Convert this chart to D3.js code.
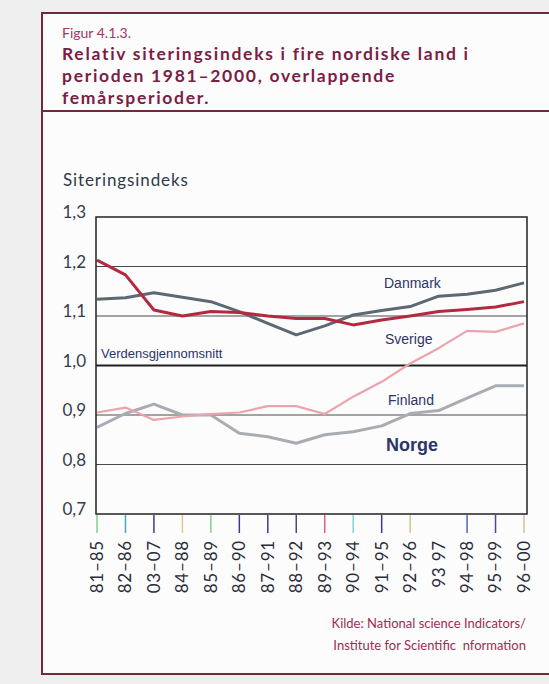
<!DOCTYPE html>
<html>
<head>
<meta charset="utf-8">
<script src="https://cdn.jsdelivr.net/npm/d3@7"></script>
<style>
  html, body { margin: 0; padding: 0; background: #efefef; }
  svg { display: block; }
</style>
</head>
<body>
<div id="chart"></div>
<script>
var width = 549,
    height = 684;

// overlapping five-year periods, as printed
var periods = ["81–85", "82–86", "03–07", "84–88", "85–89", "86–90", "87–91", "88–92",
               "89–93", "90–94", "91–95", "92–96", "93 97", "94–98", "95–99", "96–00"];

var yTicks = [0.7, 0.8, 0.9, 1.0, 1.1, 1.2, 1.3];

var danmark = [1.134, 1.137, 1.147, 1.138, 1.129, 1.109, 1.085, 1.062, 1.080, 1.102, 1.111, 1.119, 1.140, 1.144, 1.152, 1.167];
var sverige = [1.213, 1.183, 1.112, 1.100, 1.109, 1.107, 1.100, 1.095, 1.095, 1.082, 1.092, 1.100, 1.109, 1.113, 1.118, 1.129];
var finland = [0.905, 0.915, 0.890, 0.897, 0.902, 0.905, 0.918, 0.918, 0.902, 0.937, 0.967, 1.004, 1.035, 1.070, 1.068, 1.085];
var norge   = [0.875, 0.903, 0.922, 0.900, 0.900, 0.863, 0.856, 0.843, 0.860, 0.866, 0.878, 0.903, 0.909, 0.934, 0.959, 0.959];

var series = [
    { name: "Norge", values: norge, color: "#a9adb3", w: 3 },
    { name: "Finland", values: finland, color: "#eba3ad", w: 2.2 },
    { name: "Danmark", values: danmark, color: "#5d6873", w: 3 },
    { name: "Sverige", values: sverige, color: "#b32a40", w: 3 }
];

// colored tick marks under the axis (printing quirk)
var tickColors = ["#7fd08c", "#4aa9b9", "#3b3b8c", "#d9ca92", "#86d08f", "#3b3b90", "#3d3d84", "#46468a",
                  "#d8637f", "#7fd6df", "#3b3b90", "#d6c682", null, "#4b6cb1", "#4a4a9a", "#d2c294"];

var svg = d3.select("#chart")
    .append("svg")
    .attr("width", width)
    .attr("height", height);

// frame
svg.append("rect")
    .attr("x", 42).attr("y", 13)
    .attr("width", 620).attr("height", 661)
    .attr("fill", "#fdfcfc")
    .attr("stroke", "#6d2c3c")
    .attr("stroke-width", 2);

svg.append("line")
    .attr("x1", 42).attr("x2", 560)
    .attr("y1", 111).attr("y2", 111)
    .attr("stroke", "#6d2c3c")
    .attr("stroke-width", 2);

// title
var titleFont = "Lato, 'Open Sans', sans-serif";
svg.append("text")
    .attr("x", 62).attr("y", 38)
    .style("font-family", titleFont)
    .style("font-size", "14px")
    .style("fill", "#a33562")
    .text("Figur 4.1.3.");

var titleLines = ["Relativ siteringsindeks i fire nordiske land i",
                  "perioden 1981–2000, overlappende",
                  "femårsperioder."];
svg.selectAll(".title")
    .data(titleLines)
    .enter()
    .append("text")
    .attr("class", "title")
    .attr("x", 62)
    .attr("y", function (d, i) { return 60 + i * 22; })
    .style("font-family", titleFont)
    .style("font-size", "17.5px")
    .style("letter-spacing", "1.7px")
    .style("font-weight", "bold")
    .style("fill", "#7a1e46")
    .text(function (d) { return d; });

// scales
var x = d3.scalePoint()
    .domain(periods)
    .range([97, 524]);

var y = d3.scaleLinear()
    .domain([0.7, 1.3])
    .range([514, 217]);

var plot = svg.append("g");

// gridlines
plot.selectAll(".grid")
    .data(yTicks.filter(function (d) { return d > 0.7 && d < 1.3; }))
    .enter()
    .append("line")
    .attr("x1", 96).attr("x2", 527)
    .attr("y1", function (d) { return y(d); })
    .attr("y2", function (d) { return y(d); })
    .attr("stroke", function (d) { return d === 1.0 ? "#1e1e1e" : "#4a4a4a"; })
    .attr("stroke-width", function (d) { return d === 1.0 ? 1.8 : 1; });

// y axis labels
svg.append("text")
    .attr("x", 63).attr("y", 186)
    .style("font-family", titleFont)
    .style("font-size", "17px")
    .style("letter-spacing", "0.9px")
    .style("fill", "#2f3a4a")
    .text("Siteringsindeks");

svg.selectAll(".ylab")
    .data(yTicks)
    .enter()
    .append("text")
    .attr("class", "ylab")
    .attr("x", 86)
    .attr("y", function (d) { return y(d) + 1; })
    .attr("text-anchor", "end")
    .style("font-family", titleFont)
    .style("font-size", "17px")
    .style("fill", "#343c4c")
    .text(function (d) { return d3.format(".1f")(d).replace(".", ","); });

// lines
var line = d3.line()
    .x(function (d, i) { return x(periods[i]); })
    .y(function (d) { return y(d); });

plot.selectAll(".series")
    .data(series)
    .enter()
    .append("path")
    .attr("class", "series")
    .attr("d", function (d) { return line(d.values); })
    .attr("fill", "none")
    .attr("stroke", function (d) { return d.color; })
    .attr("stroke-width", function (d) { return d.w; })
    .attr("stroke-linejoin", "round");

// plot box
plot.append("rect")
    .attr("x", 96).attr("y", 217)
    .attr("width", 431).attr("height", 297)
    .attr("fill", "none")
    .attr("stroke", "#222")
    .attr("stroke-width", 1.5);

// x ticks
svg.selectAll(".xtick")
    .data(periods)
    .enter()
    .append("line")
    .attr("class", "xtick")
    .attr("x1", function (d) { return x(d); })
    .attr("x2", function (d) { return x(d); })
    .attr("y1", 515).attr("y2", 533)
    .attr("stroke", function (d, i) { return tickColors[i] || "none"; })
    .attr("stroke-width", 1.5);

svg.selectAll(".xlab")
    .data(periods)
    .enter()
    .append("text")
    .attr("class", "xlab")
    .attr("transform", function (d) { return "translate(" + x(d) + ",540) rotate(-90)"; })
    .attr("text-anchor", "end")
    .attr("dy", "0.35em")
    .style("font-family", titleFont)
    .style("font-size", "17px")
    .style("letter-spacing", "0.8px")
    .style("fill", "#2a2c3a")
    .text(function (d) { return d; });

// inline labels
var labFont = "'Liberation Sans Narrow', 'Arial Narrow', sans-serif";
var inline = [
    { t: "Danmark", x: 384, y: 288, s: 14 },
    { t: "Sverige", x: 385, y: 344, s: 14 },
    { t: "Verdensgjennomsnitt", x: 101, y: 358, s: 13 },
    { t: "Finland", x: 388, y: 405, s: 14 },
    { t: "Norge", x: 386, y: 451, s: 18 }
];
svg.selectAll(".ilab")
    .data(inline)
    .enter()
    .append("text")
    .attr("class", "ilab")
    .attr("x", function (d) { return d.x; })
    .attr("y", function (d) { return d.y; })
    .style("font-family", labFont)
    .style("font-size", function (d) { return d.s + "px"; })
    .style("font-weight", function (d) { return d.t === "Norge" ? "bold" : "normal"; })
    .style("fill", "#2b3566")
    .text(function (d) { return d.t; });

// source
var source = ["Kilde: National science Indicators/", "Institute for Scientific  nformation"];
svg.selectAll(".src")
    .data(source)
    .enter()
    .append("text")
    .attr("class", "src")
    .attr("x", 526)
    .attr("y", function (d, i) { return 628 + i * 22; })
    .attr("text-anchor", "end")
    .style("font-family", titleFont)
    .style("font-size", "13px")
    .style("fill", "#9a2e52")
    .style("white-space", "pre")
    .text(function (d) { return d; });
</script>
</body>
</html>
